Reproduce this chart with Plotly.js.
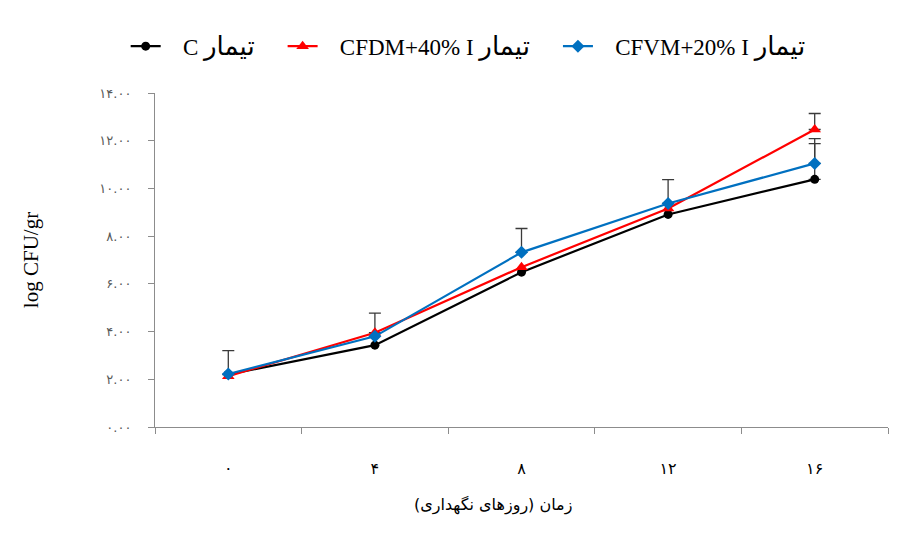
<!DOCTYPE html>
<html>
<head>
<meta charset="utf-8">
<script src="https://cdn.plot.ly/plotly-3.0.1.min.js"></script>
<style>html,body{margin:0;padding:0;background:#fff;}#chart{width:900px;height:555px;}</style>
</head>
<body>
<div id="chart"></div>
<script>
// Categories (storage days) and tick labels
const days = [0, 4, 8, 12, 16];
const dayLabels = ['۰', '۴', '۸', '۱۲', '۱۶'];

// Series labels and values (log CFU/gr)
const seriesLatin = ['C', 'CFDM+40% I', 'CFVM+20% I'];
const seriesArabic = 'تیمار';
const valuesC    = [2.20, 3.43, 6.49, 8.91, 10.38];
const valuesCFDM = [2.13, 3.95, 6.70, 9.16, 12.47];
const valuesCFVM = [2.22, 3.80, 7.32, 9.37, 11.05];

// Upper error values (NaN = no error bar)
const errC    = [1.00, NaN, NaN, NaN, 1.71];
const errCFDM = [NaN, 0.82, NaN, NaN, 0.67];
const errCFVM = [NaN, NaN, 1.00, 1.00, 0.83];

// Y tick values and labels
const yTickVals = [0, 2, 4, 6, 8, 10, 12, 14];
const yTickText = ['۰.۰۰', '۲.۰۰', '۴.۰۰', '۶.۰۰', '۸.۰۰', '۱۰.۰۰', '۱۲.۰۰', '۱۴.۰۰'];

const xTitle = '\u202Bزمان (روزهای نگهداری)\u202C';
const yTitle = 'log CFU/gr';

const NB = '\u00A0';
function legendName(latin, pad) {
  return NB.repeat(3) + latin + ' <span style="font-family:DejaVu Sans;font-size:26px">' + seriesArabic + '</span>' + NB.repeat(pad);
}

function errCfg(arr) {
  return {
    type: 'data', symmetric: false, array: arr,
    arrayminus: arr.map(v => isNaN(v) ? NaN : 0),
    color: '#3a3a3a', thickness: 1.3, width: 6, visible: true
  };
}

const cats = dayLabels;
const traces = [
  {
    x: cats, y: valuesC, name: legendName(seriesLatin[0], 4), type: 'scatter', mode: 'lines+markers',
    line: {color: '#000000', width: 2.2},
    marker: {symbol: 'circle', size: 9, color: '#000000'},
    error_y: errCfg(errC)
  },
  {
    x: cats, y: valuesCFDM, name: legendName(seriesLatin[1], 4), type: 'scatter', mode: 'lines+markers',
    line: {color: '#ff0000', width: 2.2},
    marker: {symbol: 'triangle-up', size: 11, color: '#ff0000'},
    error_y: errCfg(errCFDM)
  },
  {
    x: cats, y: valuesCFVM, name: legendName(seriesLatin[2], 0), type: 'scatter', mode: 'lines+markers',
    line: {color: '#0070c0', width: 2.2},
    marker: {symbol: 'diamond', size: 10, color: '#0070c0'},
    error_y: errCfg(errCFVM)
  }
];

const layout = {
  width: 900, height: 555,
  paper_bgcolor: '#ffffff', plot_bgcolor: '#ffffff',
  margin: {l: 155, r: 12, t: 93, b: 128},
  font: {family: 'Liberation Serif, DejaVu Sans, serif', color: '#000'},
  showlegend: true,
  legend: {
    orientation: 'h', x: -0.04, xanchor: 'left', y: 1.14, yanchor: 'middle',
    font: {family: 'Liberation Serif, serif', size: 23, color: '#000'},
    itemwidth: 30, bgcolor: 'rgba(0,0,0,0)', traceorder: 'normal'
  },
  xaxis: {
    type: 'category', range: [-0.5, 4.5], tickson: 'boundaries',
    showline: true, linecolor: '#8c8c8c', linewidth: 1,
    ticks: 'outside', ticklen: 6, tickcolor: '#8c8c8c',
    showgrid: false, zeroline: false,
    ticklabelstandoff: 27,
    tickfont: {family: 'DejaVu Sans, sans-serif', size: 16, color: '#000'}
  },
  yaxis: {
    range: [0, 14], tickmode: 'array', tickvals: yTickVals, ticktext: yTickText,
    showline: true, linecolor: '#8c8c8c', linewidth: 1,
    ticks: 'outside', ticklen: 6, tickcolor: '#8c8c8c',
    showgrid: false, zeroline: false,
    ticklabelstandoff: 14,
    tickfont: {family: 'DejaVu Sans, sans-serif', size: 13, color: '#595959'},
    title: {text: yTitle, font: {family: 'Liberation Serif, serif', size: 21, color: '#000'}, standoff: 54}
  },
  annotations: [{
    text: xTitle, xref: 'paper', yref: 'paper', x: 0.461, y: -0.234,
    xanchor: 'center', yanchor: 'middle', showarrow: false,
    font: {family: 'DejaVu Sans, sans-serif', size: 16, color: '#000'}
  }]
};

Plotly.newPlot('chart', traces, layout, {displayModeBar: false, staticPlot: true});
</script>
</body>
</html>
